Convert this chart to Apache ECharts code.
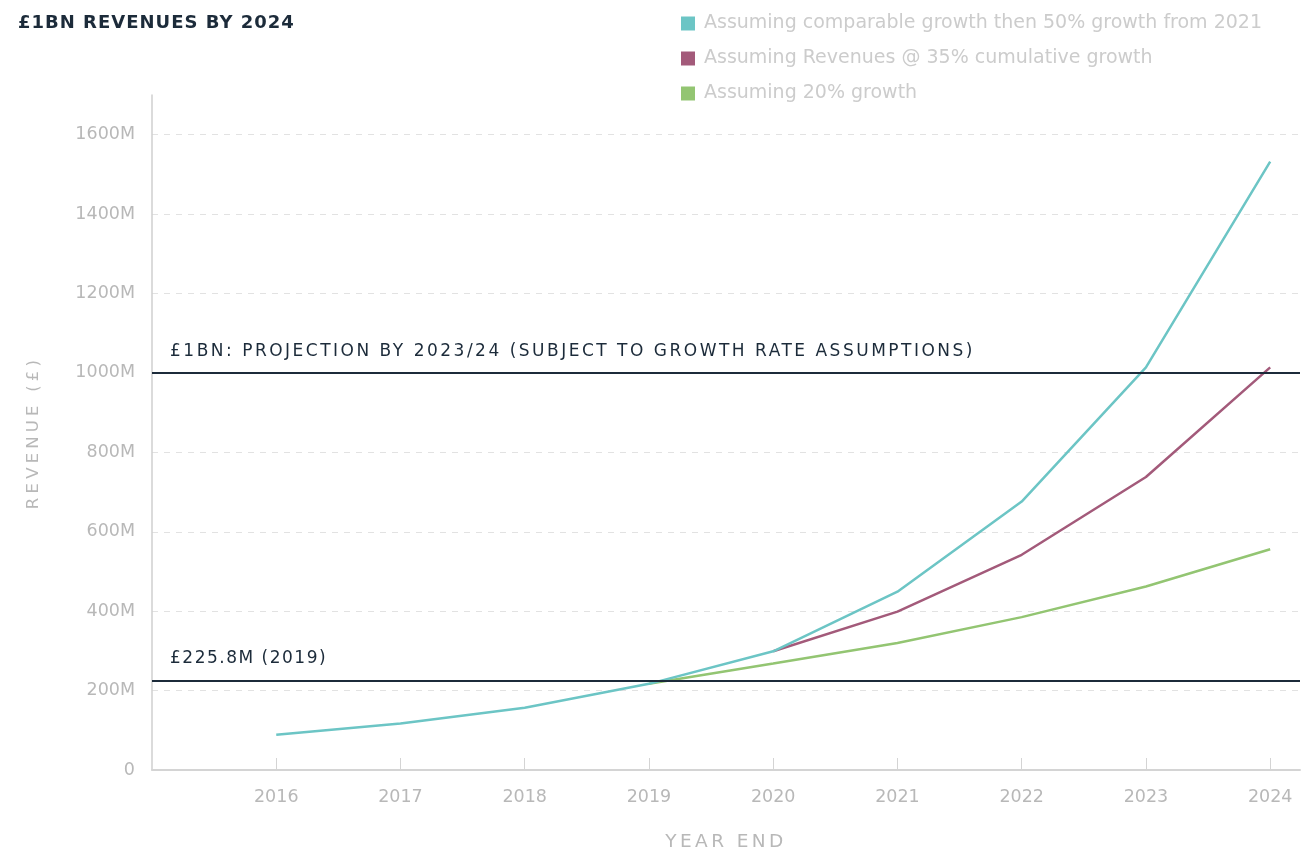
<!DOCTYPE html>
<html>
<head>
<meta charset="utf-8">
<script src="https://cdn.jsdelivr.net/npm/echarts@6/dist/echarts.min.js"></script>
<style>
  html, body { margin: 0; padding: 0; background: #fff; }
  #chart { width: 1304px; height: 857px; }
</style>
</head>
<body>
<div id="chart"></div>
<script>
var years = [2016, 2017, 2018, 2019, 2020, 2021, 2022, 2023, 2024];
var growth50 = [89, 117, 157, 217, 299, 449, 676, 1014, 1532];
var growth35 = [null, null, null, null, 299, 399, 542, 738, 1014];
var growth20 = [null, null, null, 217, 268, 320, 385, 462, 556];
var seriesNames = [
  'Assuming comparable growth then 50% growth from 2021',
  'Assuming Revenues @ 35% cumulative growth',
  'Assuming 20% growth'
];
var refLines = [
  { value: 1000, label: '£1BN: PROJECTION BY 2023/24 (SUBJECT TO GROWTH RATE ASSUMPTIONS)' },
  { value: 225.8, label: '£225.8M (2019)' }
];

// the source uses tracked (letter-spaced) capitals for these labels
var tracking = {};
tracking['£1BN REVENUES BY 2024'] = '1px';
tracking[refLines[0].label] = '2.5px';
tracking[refLines[1].label] = '1.5px';
tracking['YEAR END'] = '3.4px';
tracking['REVENUE (£)'] = '4.2px';

var ctxProto = CanvasRenderingContext2D.prototype;
var origFill = ctxProto.fillText;
var origMeasure = ctxProto.measureText;
ctxProto.fillText = function (t, x, y, w) {
  this.letterSpacing = tracking[t] || '0px';
  return w === undefined ? origFill.call(this, t, x, y) : origFill.call(this, t, x, y, w);
};
ctxProto.measureText = function (t) {
  this.letterSpacing = tracking[t] || '0px';
  return origMeasure.call(this, t);
};

function pairs(vals) {
  return years.map(function (y, i) { return [y, vals[i]]; });
}

var chartDom = document.getElementById('chart');
var myChart = echarts.init(chartDom);
var font = 'DejaVu Sans';
var dark = '#1c2b3a';
var grey = '#b8b8b8';

var option = {
  animation: false,
  textStyle: { fontFamily: font },
  title: {
    text: '£1BN REVENUES BY 2024',
    left: 13,
    top: 9,
    textStyle: { fontFamily: font, fontSize: 18, fontWeight: 'bold', color: dark }
  },
  legend: {
    orient: 'vertical',
    left: 676,
    top: 9,
    itemWidth: 14,
    itemHeight: 14,
    itemGap: 16,
    icon: 'rect',
    textStyle: { fontFamily: font, fontSize: 19, color: '#cccccc', padding: [0, 0, 0, 4] },
    data: seriesNames
  },
  grid: { left: 152, right: 4, top: 95, bottom: 82 },
  xAxis: {
    type: 'value',
    min: 2015,
    max: 2024.24,
    interval: 1,
    name: 'YEAR END',
    nameLocation: 'middle',
    nameGap: 63,
    nameTextStyle: { fontFamily: font, fontSize: 18.5, color: grey },
    axisLine: { lineStyle: { color: '#d4d4d4', width: 2 } },
    axisTick: { inside: true, length: 12, lineStyle: { color: '#d4d4d4', width: 1 } },
    axisLabel: {
      fontSize: 17.5, color: grey, margin: 18,
      showMinLabel: false,
      formatter: function (v) { return v === 2015 ? '' : String(v); }
    },
    splitLine: { show: false }
  },
  yAxis: {
    type: 'value',
    min: 0,
    max: 1700,
    interval: 200,
    name: 'REVENUE (£)',
    nameLocation: 'middle',
    nameGap: 110,
    nameTextStyle: { fontFamily: font, fontSize: 16.5, color: grey },
    axisLine: { show: true, lineStyle: { color: '#cfcfcf', width: 1.5 } },
    axisTick: { show: false },
    axisLabel: {
      fontSize: 17.5, color: grey, margin: 17,
      showMaxLabel: false,
      formatter: function (v) { return v === 0 ? '0' : v + 'M'; }
    },
    splitLine: {
      lineStyle: {
        type: [6, 6],
        color: ['#e2e2e2', '#e2e2e2', '#e2e2e2', '#e2e2e2', '#e2e2e2', '#e2e2e2', '#e2e2e2', '#e2e2e2', '#e2e2e2', 'transparent']
      }
    }
  },
  series: [
    {
      name: seriesNames[2],
      type: 'line',
      data: pairs(growth20),
      symbol: 'none',
      z: 2,
      lineStyle: { width: 2.5, color: '#93c572' },
      itemStyle: { color: '#93c572' },
      markLine: {
        silent: true,
        symbol: ['none', 'none'],
        lineStyle: { color: dark, width: 2, type: 'solid' },
        label: {
          position: 'insideStartTop',
          distance: [18, 13],
          fontFamily: font,
          fontSize: 17,
          color: dark
        },
        data: refLines.map(function (r) {
          return { yAxis: r.value, label: { formatter: r.label } };
        })
      }
    },
    {
      name: seriesNames[1],
      type: 'line',
      data: pairs(growth35),
      symbol: 'none',
      z: 3,
      lineStyle: { width: 2.5, color: '#a35a7a' },
      itemStyle: { color: '#a35a7a' }
    },
    {
      name: seriesNames[0],
      type: 'line',
      data: pairs(growth50),
      symbol: 'none',
      z: 4,
      lineStyle: { width: 2.5, color: '#6cc5c5' },
      itemStyle: { color: '#6cc5c5' }
    }
  ]
};

option && myChart.setOption(option);
</script>
</body>
</html>
